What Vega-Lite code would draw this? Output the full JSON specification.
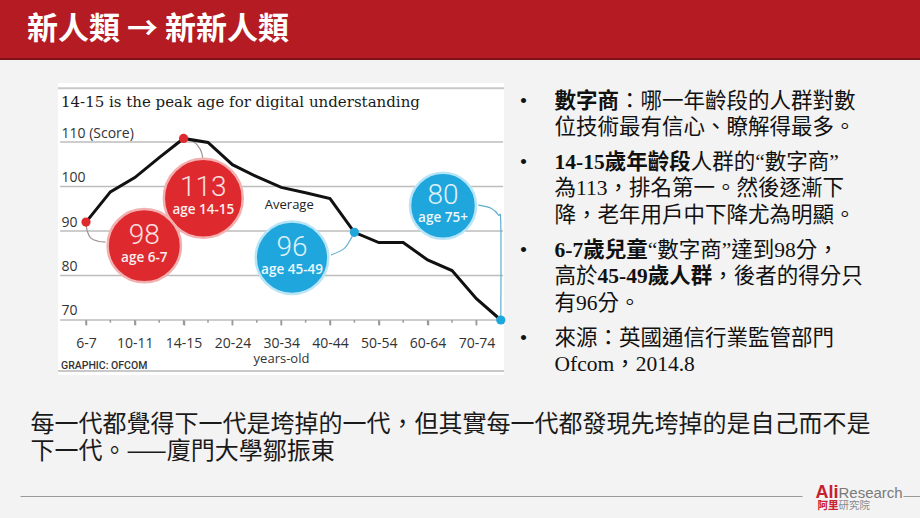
{
  "$schema": "https://vega.github.io/schema/vega-lite/v6.json",
  "background": "#f3f3f3",
  "padding": 0,
  "spacing": 0,
  "config": {"view": {"stroke": null}, "font": "Open Sans"},
  "datasets": {
    "score": [
      {"age": "6-7", "i": 0, "score": 92.0, "group": "youth"},
      {"age": "8-9", "i": 1, "score": 98.8},
      {"age": "10-11", "i": 2, "score": 102.0},
      {"age": "12-13", "i": 3, "score": 106.5},
      {"age": "14-15", "i": 4, "score": 110.8, "group": "youth"},
      {"age": "16-19", "i": 5, "score": 109.9},
      {"age": "20-24", "i": 6, "score": 104.9},
      {"age": "25-29", "i": 7, "score": 102.2},
      {"age": "30-34", "i": 8, "score": 99.8},
      {"age": "35-39", "i": 9, "score": 98.6},
      {"age": "40-44", "i": 10, "score": 97.3},
      {"age": "45-49", "i": 11, "score": 89.7, "group": "adult"},
      {"age": "50-54", "i": 12, "score": 87.4},
      {"age": "55-59", "i": 13, "score": 87.4},
      {"age": "60-64", "i": 14, "score": 83.5},
      {"age": "65-69", "i": 15, "score": 81.1},
      {"age": "70-74", "i": 16, "score": 74.8},
      {"age": "75+", "i": 17, "score": 70.0, "group": "adult"}
    ],
    "gridlevels": [
      {"score": 70}, {"score": 80}, {"score": 90}, {"score": 100}, {"score": 110}
    ],
    "bubbles": [
      {"val": 113, "sub": "age 14-15", "group": "youth", "bx": 4.807, "by": 97.35},
      {"val": 98, "sub": "age 6-7", "group": "youth", "bx": 2.389, "by": 86.7},
      {"val": 96, "sub": "age 45-49", "group": "adult", "bx": 8.443, "by": 84.0},
      {"val": 80, "sub": "age 75+", "group": "adult", "bx": 14.631, "by": 95.66}
    ],
    "connectors": [
      {"id": "c1", "ord": 0, "cx": 0, "cy": 92.0, "group": "youth"},
      {"id": "c1", "ord": 1, "cx": 0.05, "cy": 90.0, "group": "youth"},
      {"id": "c1", "ord": 2, "cx": 0.2, "cy": 88.4, "group": "youth"},
      {"id": "c1", "ord": 3, "cx": 0.5, "cy": 87.7, "group": "youth"},
      {"id": "c1", "ord": 4, "cx": 0.8, "cy": 87.5, "group": "youth"},
      {"id": "c2", "ord": 0, "cx": 4, "cy": 110.8, "group": "youth"},
      {"id": "c2", "ord": 1, "cx": 4.4, "cy": 110.1, "group": "youth"},
      {"id": "c2", "ord": 2, "cx": 4.68, "cy": 108.4, "group": "youth"},
      {"id": "c2", "ord": 3, "cx": 4.79, "cy": 106.4, "group": "youth"},
      {"id": "c3", "ord": 0, "cx": 10.04, "cy": 84.6, "group": "adult"},
      {"id": "c3", "ord": 1, "cx": 10.59, "cy": 86.1, "group": "adult"},
      {"id": "c3", "ord": 2, "cx": 10.86, "cy": 88.3, "group": "adult"},
      {"id": "c3", "ord": 3, "cx": 11, "cy": 89.7, "group": "adult"},
      {"id": "c4", "ord": 0, "cx": 16.08, "cy": 95.8, "group": "adult"},
      {"id": "c4", "ord": 1, "cx": 16.6, "cy": 95.1, "group": "adult"},
      {"id": "c4", "ord": 2, "cx": 16.9, "cy": 93.6, "group": "adult"},
      {"id": "c4", "ord": 3, "cx": 17, "cy": 91.5, "group": "adult"},
      {"id": "c4", "ord": 4, "cx": 17, "cy": 70, "group": "adult"}
    ],
    "bullets": [
      {"para": 1, "ln": 1, "bullet": "•", "bold": "數字商", "reg": "\u2060\u3000\u3000\u3000：哪一年齡段的人群對數"},
      {"para": 1, "ln": 2, "bullet": "", "bold": "", "reg": "位技術最有信心、瞭解得最多。"},
      {"para": 2, "ln": 1, "bullet": "•", "bold": "14-15歲年齡段", "reg": "\u2060\u3000\u3000\u3000\u3000\u3000\u3000\u2004人群的“數字商”"},
      {"para": 2, "ln": 2, "bullet": "", "bold": "", "reg": "為113，排名第一。然後逐漸下"},
      {"para": 2, "ln": 3, "bullet": "", "bold": "", "reg": "降，老年用戶中下降尤為明顯。"},
      {"para": 3, "ln": 1, "bullet": "•", "bold": "6-7歲兒童", "reg": "\u2060\u3000\u3000\u3000\u3000\u2004“數字商”達到98分，"},
      {"para": 3, "ln": 2, "bullet": "", "bold": "\u2060\u3000\u300045-49歲人群", "reg": "高於\u3000\u3000\u3000\u3000\u3000\u2004，後者的得分只"},
      {"para": 3, "ln": 3, "bullet": "", "bold": "", "reg": "有96分。"},
      {"para": 4, "ln": 1, "bullet": "•", "bold": "", "reg": "來源：英國通信行業監管部門"},
      {"para": 4, "ln": 2, "bullet": "", "bold": "", "reg": "Ofcom，2014.8"}
    ],
    "quote": [
      {"ln": 1, "text": "每一代都覺得下一代是垮掉的一代，但其實每一代都發現先垮掉的是自己而不是"},
      {"ln": 2, "text": "下一代。——廈門大學鄒振東"}
    ]
  },
  "vconcat": [
    {
      "width": 920, "height": 58,
      "view": {"fill": "#b51b22"},
      "data": {"values": []},
      "mark": "point",
      "encoding": {},
      "title": {"text": "新人類 → 新新人類", "anchor": "start", "frame": "group", "orient": "top", "offset": -46, "dx": 27, "font": "Noto Sans CJK TC", "fontSize": 31, "fontWeight": "bold", "color": "#ffffff"}
    },
    {"width": 920, "height": 2, "view": {"fill": "#7d1318"}, "data": {"values": []}, "mark": "point", "encoding": {}},
    {"width": 1, "height": 23, "data": {"values": []}, "mark": "point", "encoding": {}},
    {
      "spacing": 0,
      "hconcat": [
        {"width": 57, "height": 1, "data": {"values": []}, "mark": "point", "encoding": {}},
        {
          "width": 446, "height": 292,
          "view": {"fill": "#ffffff"},
          "resolve": {"axis": {"x": "independent", "y": "independent"}},
          "layer": [
            {
              "data": {"name": "score"},
              "mark": {"type": "line", "color": "#111111", "strokeWidth": 3, "strokeOpacity": 0},
              "encoding": {
                "x": {
                  "field": "i", "type": "quantitative",
                  "scale": {"domain": [-1.1475, 17.131], "nice": false, "zero": false},
                  "axis": {
                    "values": [0, 2, 4, 6, 8, 10, 12, 14, 16],
                    "labelExpr": "['6-7','10-11','14-15','20-24','30-34','40-44','50-54','60-64','70-74'][datum.value/2]",
                    "offset": -55, "domain": false, "grid": false,
                    "tickSize": 5, "tickColor": "#9a9a9a", "tickWidth": 1.5,
                    "labelPadding": 11, "labelFont": "Open Sans", "labelFontSize": 14, "labelColor": "#333333",
                    "labelOverlap": false, "labelFlush": false,
                    "title": "years-old", "titleFont": "Open Sans", "titleFontSize": 13, "titleFontWeight": "normal", "titleColor": "#333333", "titlePadding": 2
                  }
                },
                "y": {
                  "field": "score", "type": "quantitative",
                  "scale": {"domain": [57.64, 123.26], "nice": false, "zero": false},
                  "axis": {
                    "values": [70, 80, 90, 100, 110],
                    "domain": false, "ticks": false, "tickSize": 0,
                    "grid": false,
                    "labelAlign": "left", "labelBaseline": "alphabetic", "labelPadding": -3, "labelOffset": -5,
                    "labelFont": "Open Sans", "labelFontSize": 14, "labelColor": "#333333",
                    "labelExpr": "datum.value == 110 ? '110 (Score)' : datum.label",
                    "title": null
                  }
                }
              }
            },
            {
              "data": {"name": "gridlevels"},
              "mark": {"type": "rule", "color": "#bdbdbd", "strokeWidth": 1.5},
              "encoding": {
                "x": {"datum": -1.06, "type": "quantitative", "axis": null},
                "x2": {"datum": 17.09},
                "y": {"field": "score", "type": "quantitative", "axis": null}
              }
            },
            {
              "data": {"values": [{}]},
              "mark": {"type": "rule", "color": "#c9c9c9", "strokeWidth": 2},
              "encoding": {
                "x": {"datum": -1.1475, "type": "quantitative", "axis": null},
                "x2": {"datum": 17.131},
                "y": {"datum": 122.07, "type": "quantitative", "axis": null}
              }
            },
            {
              "data": {"values": [{}]},
              "mark": {"type": "rule", "color": "#c9c9c9", "strokeWidth": 2},
              "encoding": {
                "x": {"datum": -1.1475, "type": "quantitative", "axis": null},
                "x2": {"datum": 17.131},
                "y": {"datum": 58.54, "type": "quantitative", "axis": null}
              }
            },
            {
              "data": {"name": "score"},
              "transform": [{"filter": "datum.i % 2 == 1 && datum.i < 16"}],
              "mark": {"type": "rule", "color": "#9a9a9a", "strokeWidth": 1.5},
              "encoding": {
                "x": {"field": "i", "type": "quantitative", "axis": null},
                "y": {"datum": 70, "type": "quantitative", "axis": null},
                "y2": {"datum": 69.4}
              }
            },
            {
              "data": {"name": "score"},
              "transform": [{"filter": "datum.i % 2 == 0 && datum.i <= 16"}],
              "mark": {"type": "rule", "color": "#9a9a9a", "strokeWidth": 1.5},
              "encoding": {
                "x": {"field": "i", "type": "quantitative", "axis": null},
                "y": {"datum": 70, "type": "quantitative", "axis": null},
                "y2": {"datum": 68.88}
              }
            },
            {
              "data": {"name": "connectors"},
              "mark": {"type": "line", "strokeWidth": 1.2, "interpolate": "cardinal"},
              "encoding": {
                "x": {"field": "cx", "type": "quantitative", "axis": null},
                "y": {"field": "cy", "type": "quantitative", "axis": null},
                "detail": {"field": "id", "type": "nominal"},
                "order": {"field": "ord", "type": "quantitative"},
                "color": {"field": "group", "type": "nominal", "scale": {"domain": ["youth", "adult"], "range": ["#a39393", "#5fb0cf"]}, "legend": null}
              }
            },
            {
              "data": {"name": "score"},
              "mark": {"type": "line", "color": "#111111", "strokeWidth": 3},
              "encoding": {
                "x": {"field": "i", "type": "quantitative", "axis": null},
                "y": {"field": "score", "type": "quantitative", "axis": null}
              }
            },
            {
              "data": {"name": "bubbles"},
              "mark": {"type": "circle", "opacity": 1, "strokeWidth": 2.5},
              "encoding": {
                "x": {"field": "bx", "type": "quantitative", "axis": null},
                "y": {"field": "by", "type": "quantitative", "axis": null},
                "size": {"field": "val", "type": "quantitative", "scale": {"domain": [80, 113], "range": [4356, 6241]}, "legend": null},
                "fill": {"field": "group", "type": "nominal", "scale": {"domain": ["youth", "adult"], "range": ["#de2a2f", "#1fa6dc"]}, "legend": null},
                "stroke": {"field": "group", "type": "nominal", "scale": {"domain": ["youth", "adult"], "range": ["#f3b0b0", "#b9e5f6"]}, "legend": null}
              }
            },
            {
              "data": {"name": "score"},
              "transform": [{"filter": "isValid(datum.group)"}],
              "mark": {"type": "circle", "size": 85, "opacity": 1},
              "encoding": {
                "x": {"field": "i", "type": "quantitative", "axis": null},
                "y": {"field": "score", "type": "quantitative", "axis": null},
                "fill": {"field": "group", "type": "nominal", "legend": null}
              }
            },
            {
              "data": {"name": "bubbles"},
              "mark": {"type": "text", "font": "Roboto", "fontWeight": 300, "fontSize": 28, "dy": -10, "color": "#ffffff", "opacity": 0.85, "baseline": "middle"},
              "encoding": {
                "x": {"field": "bx", "type": "quantitative", "axis": null},
                "y": {"field": "by", "type": "quantitative", "axis": null},
                "text": {"field": "val", "type": "quantitative"}
              }
            },
            {
              "data": {"name": "bubbles"},
              "mark": {"type": "text", "font": "Open Sans", "fontWeight": 600, "fontSize": 13.5, "dy": 12, "color": "#ffffff", "opacity": 0.92, "baseline": "middle"},
              "encoding": {
                "x": {"field": "bx", "type": "quantitative", "axis": null},
                "y": {"field": "by", "type": "quantitative", "axis": null},
                "text": {"field": "sub", "type": "nominal"}
              }
            },
            {
              "data": {"values": [{"t": "Average"}]},
              "mark": {"type": "text", "font": "Open Sans", "fontSize": 13, "color": "#222222", "baseline": "middle"},
              "encoding": {"x": {"datum": 8.33, "type": "quantitative", "axis": null}, "y": {"datum": 95.84, "type": "quantitative", "axis": null}, "text": {"field": "t", "type": "nominal"}}
            },
            {
              "data": {"values": [{"t": "14-15 is the peak age for digital understanding"}]},
              "mark": {"type": "text", "font": "DejaVu Serif", "fontSize": 15, "color": "#1a1a1a", "align": "left", "baseline": "middle"},
              "encoding": {"x": {"datum": -1.0245, "type": "quantitative", "axis": null}, "y": {"datum": 119.0, "type": "quantitative", "axis": null}, "text": {"field": "t", "type": "nominal"}}
            },
            {
              "data": {"values": [{"t": "GRAPHIC: OFCOM"}]},
              "mark": {"type": "text", "font": "Roboto", "fontSize": 10.5, "fontWeight": 500, "color": "#333333", "align": "left", "baseline": "middle"},
              "encoding": {"x": {"datum": -1.0245, "type": "quantitative", "axis": null}, "y": {"datum": 59.7, "type": "quantitative", "axis": null}, "text": {"field": "t", "type": "nominal"}}
            }
          ]
        },
        {"width": 11.8, "height": 1, "data": {"values": []}, "mark": "point", "encoding": {}},
        {
          "spacing": 0,
          "vconcat": [
            {
              "bounds": "flush", "spacing": 30,
              "hconcat": [
                {"width": 1, "height": 60.9, "data": {"name": "bullets"}, "transform": [{"filter": "datum.para == 1"}], "mark": {"type": "text", "font": "Liberation Serif", "fontSize": 21.5, "align": "center", "baseline": "middle", "dy": 1.5, "color": "#111111"}, "encoding": {"y": {"field": "ln", "type": "ordinal", "scale": {"type": "point", "padding": 0.64}, "axis": null}, "text": {"field": "bullet", "type": "nominal"}}},
                {
                  "width": 1, "height": 60.9,
                  "data": {"name": "bullets"},
                  "transform": [{"filter": "datum.para == 1"}],
                  "encoding": {"y": {"field": "ln", "type": "ordinal", "scale": {"type": "point", "padding": 0.64}, "axis": null}},
                  "layer": [
                    {"mark": {"type": "text", "font": "Liberation Serif, Noto Sans CJK TC", "fontSize": 21.5, "align": "left", "baseline": "middle", "dy": 1.5, "color": "#111111"}, "encoding": {"text": {"field": "reg", "type": "nominal"}}},
                    {"mark": {"type": "text", "font": "Liberation Serif, Noto Sans CJK TC", "fontSize": 21.5, "fontWeight": "bold", "align": "left", "baseline": "middle", "dy": 1.5, "color": "#111111"}, "encoding": {"text": {"field": "bold", "type": "nominal"}}}
                  ]
                }
              ]
            },
            {
              "bounds": "flush", "spacing": 30,
              "hconcat": [
                {"width": 1, "height": 87.6, "data": {"name": "bullets"}, "transform": [{"filter": "datum.para == 2"}], "mark": {"type": "text", "font": "Liberation Serif", "fontSize": 21.5, "align": "center", "baseline": "middle", "dy": 1.5, "color": "#111111"}, "encoding": {"y": {"field": "ln", "type": "ordinal", "scale": {"type": "point", "padding": 0.64}, "axis": null}, "text": {"field": "bullet", "type": "nominal"}}},
                {
                  "width": 1, "height": 87.6,
                  "data": {"name": "bullets"},
                  "transform": [{"filter": "datum.para == 2"}],
                  "encoding": {"y": {"field": "ln", "type": "ordinal", "scale": {"type": "point", "padding": 0.64}, "axis": null}},
                  "layer": [
                    {"mark": {"type": "text", "font": "Liberation Serif, Noto Sans CJK TC", "fontSize": 21.5, "align": "left", "baseline": "middle", "dy": 1.5, "color": "#111111"}, "encoding": {"text": {"field": "reg", "type": "nominal"}}},
                    {"mark": {"type": "text", "font": "Liberation Serif, Noto Sans CJK TC", "fontSize": 21.5, "fontWeight": "bold", "align": "left", "baseline": "middle", "dy": 1.5, "color": "#111111"}, "encoding": {"text": {"field": "bold", "type": "nominal"}}}
                  ]
                }
              ]
            },
            {
              "bounds": "flush", "spacing": 30,
              "hconcat": [
                {"width": 1, "height": 87.6, "data": {"name": "bullets"}, "transform": [{"filter": "datum.para == 3"}], "mark": {"type": "text", "font": "Liberation Serif", "fontSize": 21.5, "align": "center", "baseline": "middle", "dy": 1.5, "color": "#111111"}, "encoding": {"y": {"field": "ln", "type": "ordinal", "scale": {"type": "point", "padding": 0.64}, "axis": null}, "text": {"field": "bullet", "type": "nominal"}}},
                {
                  "width": 1, "height": 87.6,
                  "data": {"name": "bullets"},
                  "transform": [{"filter": "datum.para == 3"}],
                  "encoding": {"y": {"field": "ln", "type": "ordinal", "scale": {"type": "point", "padding": 0.64}, "axis": null}},
                  "layer": [
                    {"mark": {"type": "text", "font": "Liberation Serif, Noto Sans CJK TC", "fontSize": 21.5, "align": "left", "baseline": "middle", "dy": 1.5, "color": "#111111"}, "encoding": {"text": {"field": "reg", "type": "nominal"}}},
                    {"mark": {"type": "text", "font": "Liberation Serif, Noto Sans CJK TC", "fontSize": 21.5, "fontWeight": "bold", "align": "left", "baseline": "middle", "dy": 1.5, "color": "#111111"}, "encoding": {"text": {"field": "bold", "type": "nominal"}}}
                  ]
                }
              ]
            },
            {
              "bounds": "flush", "spacing": 30,
              "hconcat": [
                {"width": 1, "height": 60.9, "data": {"name": "bullets"}, "transform": [{"filter": "datum.para == 4"}], "mark": {"type": "text", "font": "Liberation Serif", "fontSize": 21.5, "align": "center", "baseline": "middle", "dy": 1.5, "color": "#111111"}, "encoding": {"y": {"field": "ln", "type": "ordinal", "scale": {"type": "point", "padding": 0.64}, "axis": null}, "text": {"field": "bullet", "type": "nominal"}}},
                {
                  "width": 1, "height": 60.9,
                  "data": {"name": "bullets"},
                  "transform": [{"filter": "datum.para == 4"}],
                  "encoding": {"y": {"field": "ln", "type": "ordinal", "scale": {"type": "point", "padding": 0.64}, "axis": null}},
                  "layer": [
                    {"mark": {"type": "text", "font": "Liberation Serif, Noto Sans CJK TC", "fontSize": 21.5, "align": "left", "baseline": "middle", "dy": 1.5, "color": "#111111"}, "encoding": {"text": {"field": "reg", "type": "nominal"}}},
                    {"mark": {"type": "text", "font": "Liberation Serif, Noto Sans CJK TC", "fontSize": 21.5, "fontWeight": "bold", "align": "left", "baseline": "middle", "dy": 1.5, "color": "#111111"}, "encoding": {"text": {"field": "bold", "type": "nominal"}}}
                  ]
                }
              ]
            }
          ]
        }
      ]
    },
    {"width": 1, "height": 30, "data": {"values": []}, "mark": "point", "encoding": {}},
    {
      "bounds": "flush", "spacing": 0,
      "hconcat": [
        {"width": 30, "height": 1, "data": {"values": []}, "mark": "point", "encoding": {}},
        {
          "width": 1, "height": 54,
          "data": {"name": "quote"},
          "mark": {"type": "text", "font": "Noto Sans CJK TC", "fontSize": 24, "align": "left", "baseline": "middle", "color": "#1a1a1a"},
          "encoding": {
            "y": {"field": "ln", "type": "ordinal", "axis": null},
            "text": {"field": "text", "type": "nominal"}
          }
        }
      ]
    },
    {"width": 1, "height": 18, "data": {"values": []}, "mark": "point", "encoding": {}},
    {
      "bounds": "flush", "spacing": 0,
      "hconcat": [
        {"width": 20, "height": 13, "data": {"values": []}, "mark": "point", "encoding": {}},
        {
          "width": 782, "height": 13,
          "data": {"values": [{}]},
          "mark": {"type": "point", "opacity": 0},
          "encoding": {"x": {"datum": 0, "type": "quantitative", "axis": {"domain": true, "domainColor": "#9a9a9a", "domainWidth": 1, "ticks": false, "labels": false, "grid": false, "title": null}}}
        },
        {"width": 36, "height": 13, "data": {"values": []}, "mark": "point", "encoding": {}},
        {
          "width": 1, "height": 13,
          "layer": [
            {"data": {"values": [{"t": "Ali"}]}, "mark": {"type": "text", "font": "Liberation Sans", "fontWeight": "bold", "fontSize": 18, "align": "right", "baseline": "alphabetic", "dy": 8.5, "color": "#c8202f"}, "encoding": {"text": {"field": "t", "type": "nominal"}}},
            {"data": {"values": [{"t": "Research"}]}, "mark": {"type": "text", "font": "Liberation Sans", "fontSize": 15, "align": "left", "baseline": "alphabetic", "dy": 8.5, "color": "#7a7a7a"}, "encoding": {"text": {"field": "t", "type": "nominal"}}},
            {"data": {"values": [{"t": "阿里"}]}, "mark": {"type": "text", "font": "Noto Sans CJK TC", "fontWeight": "bold", "fontSize": 10.5, "align": "right", "baseline": "top", "dy": 11.5, "color": "#c8202f"}, "encoding": {"text": {"field": "t", "type": "nominal"}}},
            {"data": {"values": [{"t": "研究院"}]}, "mark": {"type": "text", "font": "Noto Sans CJK TC", "fontSize": 10.5, "align": "left", "baseline": "top", "dy": 11.5, "color": "#8a8a8a"}, "encoding": {"text": {"field": "t", "type": "nominal"}}}
          ]
        },
        {"width": 64, "height": 13, "data": {"values": []}, "mark": "point", "encoding": {}},
        {
          "width": 17, "height": 13,
          "data": {"values": [{}]},
          "mark": {"type": "point", "opacity": 0},
          "encoding": {"x": {"datum": 0, "type": "quantitative", "axis": {"domain": true, "domainColor": "#9a9a9a", "domainWidth": 1, "ticks": false, "labels": false, "grid": false, "title": null}}}
        }
      ]
    },
    {"width": 1, "height": 10, "data": {"values": []}, "mark": "point", "encoding": {}}
  ]
}
